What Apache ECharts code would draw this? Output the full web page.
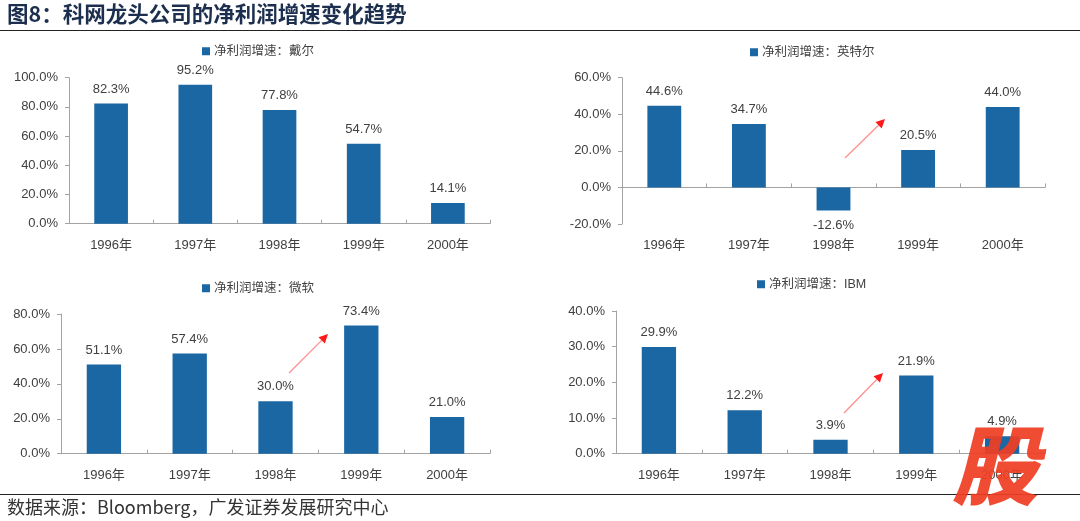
<!DOCTYPE html>
<html>
<head>
<meta charset="utf-8">
<script src="https://cdn.jsdelivr.net/npm/echarts@6/dist/echarts.min.js"></script>
<style>
html,body{margin:0;padding:0;background:#fff;}
#main{width:1080px;height:521px;}
</style>
</head>
<body>
<div id="main"></div>
<script>
// ---- data ----
var years = ['1996年', '1997年', '1998年', '1999年', '2000年'];
var dellValues = [82.3, 95.2, 77.8, 54.7, 14.1];
var intelValues = [44.6, 34.7, -12.6, 20.5, 44.0];
var msftValues = [51.1, 57.4, 30.0, 73.4, 21.0];
var ibmValues = [29.9, 12.2, 3.9, 21.9, 4.9];
var seriesNames = ['净利润增速：戴尔', '净利润增速：英特尔', '净利润增速：微软', '净利润增速：IBM'];
var titleText = '图8：科网龙头公司的净利润增速变化趋势';
var sourceText = '数据来源：Bloomberg，广发证券发展研究中心';

var FONT = '"Liberation Sans", "Noto Sans CJK SC", sans-serif';
var TXT = '#404040';
var AXIS = '#a3a3a3';
var BAR = '#1b67a3';

var chart = echarts.init(document.getElementById('main'), null, {renderer: 'canvas'});

var grids = [
  {left: 69, top: 77.7, width: 421, height: 146},
  {left: 622, top: 77.7, width: 423, height: 146.3},
  {left: 61, top: 314, width: 429, height: 139.7},
  {left: 616, top: 311, width: 429, height: 142.7}
];
var yRanges = [[0, 100, 20], [-20, 60, 20], [0, 80, 20], [0, 40, 10]];
var allValues = [dellValues, intelValues, msftValues, ibmValues];
var legendPos = [[202, 45], [750, 46], [202, 282], [757, 278]];

function pct(v){ return v.toFixed(1) + '%'; }

var xAxes = [], yAxes = [], series = [], legends = [];
for (var i = 0; i < 4; i++) {
  yAxes.push({
    type: 'value', gridIndex: i,
    min: yRanges[i][0], max: yRanges[i][1], interval: yRanges[i][2],
    axisLine: {show: true, lineStyle: {color: AXIS, width: 1}},
    axisTick: {show: true, length: 4, lineStyle: {color: AXIS}},
    splitLine: {show: false},
    axisLabel: {color: TXT, fontSize: 13, fontFamily: FONT, margin: 11,
      formatter: function(v){ return v.toFixed(1) + '%'; }}
  });
}
// labels axes (bottom) for each grid
for (var i = 0; i < 4; i++) {
  xAxes.push({
    type: 'category', gridIndex: i, data: years, position: 'bottom',
    axisLine: {show: false, onZero: false},
    axisTick: {show: false},
    axisLabel: {color: TXT, fontSize: 13, fontFamily: FONT, margin: 15}
  });
}
// line axes (on zero) for each grid
for (var i = 0; i < 4; i++) {
  xAxes.push({
    type: 'category', gridIndex: i, data: years,
    axisLine: {show: true, onZero: true, lineStyle: {color: AXIS, width: 1}},
    axisTick: {show: true, length: 4, alignWithLabel: false, lineStyle: {color: AXIS}},
    axisLabel: {show: false}
  });
}
for (var i = 0; i < 4; i++) {
  var vals = allValues[i].map(function(v){
    return v < 0 ? {value: v, label: {position: 'bottom'}} : v;
  });
  series.push({
    name: seriesNames[i], type: 'bar', xAxisIndex: 4 + i, yAxisIndex: i,
    data: vals, barWidth: '40%',
    itemStyle: {color: BAR},
    label: {show: true, position: 'top', distance: 8, color: TXT, fontSize: 13, fontFamily: FONT,
      formatter: function(p){ return pct(p.value); }},
    silent: true, animation: false
  });
  legends.push({
    data: [seriesNames[i]], left: legendPos[i][0], top: legendPos[i][1],
    icon: 'rect', itemWidth: 8, itemHeight: 8, itemGap: 4,
    textStyle: {color: TXT, fontSize: 12.5, fontFamily: FONT, padding: [0, 0, 0, -1]},
    padding: 0, selectedMode: false
  });
}

function arrow(x1, y1, x2, y2) {
  var ang = Math.atan2(y2 - y1, x2 - x1);
  var L = 9, W = 4.5;
  var bx = x2 - L * Math.cos(ang), by = y2 - L * Math.sin(ang);
  var px = -Math.sin(ang) * W, py = Math.cos(ang) * W;
  return [
    {type: 'line', shape: {x1: x1, y1: y1, x2: bx, y2: by}, style: {stroke: '#ff8f8f', lineWidth: 1.3}, z: 10},
    {type: 'polygon', shape: {points: [[x2, y2], [bx + px, by + py], [bx - px, by - py]]}, style: {fill: '#ff1a1a'}, z: 10}
  ];
}

var graphics = [
  {type: 'text', left: 7, top: 3, style: {text: titleText, fill: '#1c2f4f', font: 'bold 21.5px "Noto Sans CJK SC", sans-serif'}},
  {type: 'line', shape: {x1: 0, y1: 30.5, x2: 1080, y2: 30.5}, style: {stroke: '#222', lineWidth: 1.2}},
  {type: 'line', shape: {x1: 0, y1: 494.5, x2: 1080, y2: 494.5}, style: {stroke: '#222', lineWidth: 1.2}},
  {type: 'text', left: 7, top: 498, style: {text: sourceText, fill: '#333', font: '18px "Noto Sans CJK SC", sans-serif'}}
];
graphics = graphics.concat(arrow(845, 158, 885, 119), arrow(289, 373, 328, 334), arrow(844, 413, 883, 373));
graphics.push({type: 'text', left: 952, top: 422, z: 20,
  style: {text: '股', fill: 'rgba(239,62,36,0.93)', font: 'italic 900 86px "Noto Sans CJK SC", sans-serif'}});

chart.setOption({
  backgroundColor: '#ffffff',
  animation: false,
  textStyle: {fontFamily: FONT},
  grid: grids,
  xAxis: xAxes,
  yAxis: yAxes,
  legend: legends,
  series: series,
  graphic: graphics
});
</script>
</body>
</html>
